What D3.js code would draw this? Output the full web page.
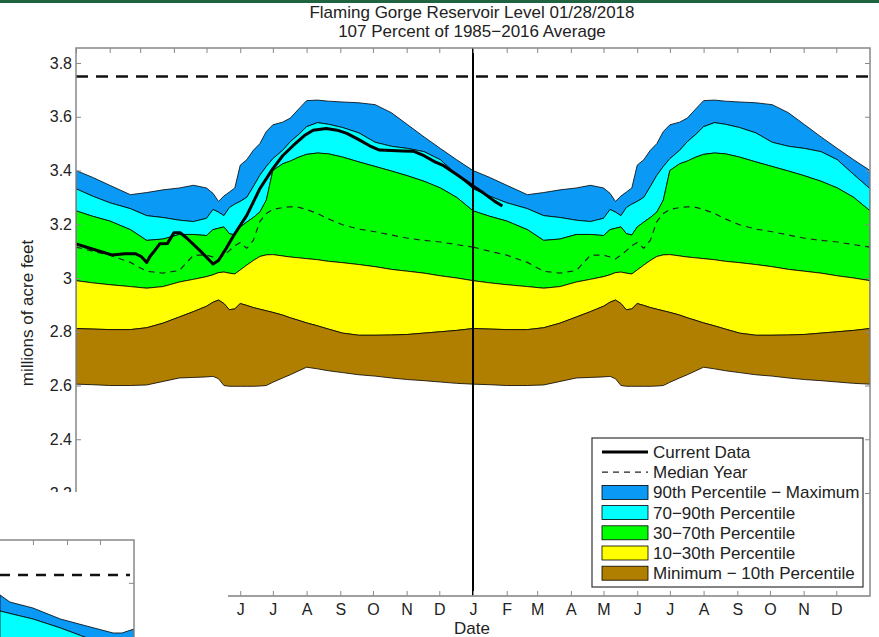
<!DOCTYPE html>
<html>
<head>
<meta charset="utf-8">
<script src="https://cdn.jsdelivr.net/npm/d3@7"></script>
<style>
	body { margin: 0; background: #fff; }
	text { font-family: 'Liberation Sans', Arial, sans-serif; fill: #222; }
</style>
</head>
<body>
<div id="canvas"></div>
<script>
// day of year (0 = Jan 1) at which the percentile curves were read
const days     = [0, 15, 31, 50, 65, 80, 95, 108, 120, 126, 131, 136, 141, 146, 151, 157, 163, 169, 175, 181, 190, 197, 205, 212, 222, 232, 245, 260, 275, 290, 305, 320, 335, 350, 365];
const maxLevel = [3.400, 3.375, 3.345, 3.310, 3.318, 3.328, 3.335, 3.345, 3.335, 3.315, 3.285, 3.305, 3.320, 3.335, 3.420, 3.440, 3.475, 3.500, 3.545, 3.570, 3.580, 3.595, 3.630, 3.660, 3.662, 3.658, 3.655, 3.652, 3.645, 3.615, 3.570, 3.525, 3.482, 3.440, 3.400];
const p90      = [3.332, 3.305, 3.280, 3.258, 3.232, 3.225, 3.215, 3.210, 3.222, 3.255, 3.245, 3.232, 3.262, 3.275, 3.285, 3.300, 3.340, 3.382, 3.415, 3.444, 3.475, 3.507, 3.535, 3.563, 3.578, 3.572, 3.560, 3.540, 3.505, 3.490, 3.482, 3.470, 3.440, 3.385, 3.332];
const p70      = [3.250, 3.230, 3.212, 3.180, 3.140, 3.145, 3.162, 3.162, 3.158, 3.180, 3.185, 3.190, 3.165, 3.160, 3.190, 3.208, 3.225, 3.245, 3.290, 3.400, 3.425, 3.435, 3.450, 3.460, 3.465, 3.462, 3.450, 3.432, 3.415, 3.398, 3.380, 3.360, 3.335, 3.300, 3.250];
const p30      = [2.990, 2.982, 2.975, 2.968, 2.962, 2.968, 2.985, 2.995, 3.005, 3.012, 3.020, 3.022, 3.018, 3.015, 3.030, 3.048, 3.065, 3.080, 3.086, 3.087, 3.082, 3.078, 3.075, 3.072, 3.068, 3.062, 3.057, 3.050, 3.042, 3.032, 3.025, 3.018, 3.008, 3.000, 2.990];
const p10      = [2.812, 2.810, 2.808, 2.808, 2.815, 2.832, 2.855, 2.875, 2.895, 2.910, 2.918, 2.905, 2.882, 2.885, 2.905, 2.898, 2.890, 2.884, 2.878, 2.872, 2.862, 2.852, 2.842, 2.833, 2.822, 2.810, 2.795, 2.787, 2.787, 2.788, 2.790, 2.795, 2.800, 2.805, 2.812];
const minLevel = [2.605, 2.603, 2.600, 2.600, 2.602, 2.615, 2.628, 2.630, 2.632, 2.634, 2.625, 2.600, 2.597, 2.597, 2.597, 2.597, 2.597, 2.598, 2.600, 2.612, 2.628, 2.640, 2.655, 2.668, 2.662, 2.655, 2.648, 2.640, 2.635, 2.628, 2.622, 2.618, 2.613, 2.608, 2.605];
const median   = [3.115, 3.100, 3.085, 3.058, 3.025, 3.018, 3.028, 3.085, 3.085, 3.078, 3.071, 3.085, 3.102, 3.120, 3.132, 3.110, 3.140, 3.210, 3.240, 3.255, 3.262, 3.265, 3.263, 3.255, 3.240, 3.220, 3.198, 3.182, 3.172, 3.160, 3.148, 3.140, 3.134, 3.124, 3.115];

// current data, days counted from Jan 1 2017
const currentDays  = [0, 15, 33, 45, 55, 60, 65, 68, 72, 77, 84, 90, 96, 102, 114, 126, 131, 138, 145, 157, 169, 181, 190, 200, 210, 218, 230, 240, 249, 260, 270, 279, 290, 300, 310, 320, 330, 338, 350, 365, 375, 385, 392];
const currentLevel = [3.127, 3.108, 3.086, 3.090, 3.090, 3.080, 3.058, 3.080, 3.100, 3.127, 3.128, 3.168, 3.168, 3.148, 3.102, 3.052, 3.065, 3.110, 3.158, 3.233, 3.332, 3.407, 3.455, 3.494, 3.530, 3.550, 3.556, 3.550, 3.538, 3.515, 3.492, 3.476, 3.474, 3.473, 3.472, 3.455, 3.432, 3.418, 3.385, 3.342, 3.315, 3.285, 3.268];

const years = [2017, 2018];
const fullPool = 3.75;
const yTicks = [2.2, 2.4, 2.6, 2.8, 3, 3.2, 3.4, 3.6, 3.8];
const bandNames = ['90th Percentile \u2212 Maximum', '70\u221290th Percentile', '30\u221270th Percentile', '10\u221230th Percentile', 'Minimum \u2212 10th Percentile'];
const bandColors = ['#0a9af5', '#00ffff', '#00ff00', '#ffff00', '#b17f00'];

// piece of a second chart visible in the lower left corner (days from Sep 1)
const insetDays = [0, 9, 30, 55, 79, 103, 111, 122];
const insetMax  = [3.623, 3.578, 3.540, 3.470, 3.425, 3.381, 3.381, 3.406];
const insetP90  = [3.521, 3.505, 3.470, 3.413, 3.350, 3.320, 3.310, 3.290];

const w = 879;
const h = 637;
const axLeft = 76, axRight = 870, axTop = 48, axBottom = 596;

const svg = d3.select('#canvas')
	.append('svg')
	.attr('width', w)
	.attr('height', h);

svg.append('rect')
	.attr('x', 0).attr('y', 0)
	.attr('width', w).attr('height', 3)
	.attr('fill', '#1f6340');

const x = d3.scaleTime()
	.domain([new Date(2017, 0, 1), new Date(2019, 0, 1)])
	.range([axLeft, axRight]);

const y = d3.scaleLinear()
	.domain([2.2, 3.8])
	.range([493, 63]);

svg.append('clipPath')
	.attr('id', 'plot')
	.append('rect')
	.attr('x', axLeft).attr('y', axTop)
	.attr('width', axRight - axLeft).attr('height', axBottom - axTop);

const plot = svg.append('g').attr('clip-path', 'url(#plot)');

const levels = [maxLevel, p90, p70, p30, p10, minLevel];

years.forEach(function(year) {
	const start = new Date(year, 0, 1);
	const rows = days.map((d, i) => ({
		date: d3.timeDay.offset(start, d),
		levels: levels.map(l => l[i]),
		median: median[i]
	}));

	bandColors.forEach(function(color, b) {
		const area = d3.area()
			.x(d => x(d.date))
			.y0(d => y(d.levels[b + 1]))
			.y1(d => y(d.levels[b]));
		plot.append('path')
			.datum(rows)
			.attr('d', area)
			.attr('fill', color)
			.attr('stroke', '#000')
			.attr('stroke-width', 0.8);
	});

	plot.append('path')
		.datum(rows)
		.attr('d', d3.line().x(d => x(d.date)).y(d => y(d.median)))
		.attr('fill', 'none')
		.attr('stroke', '#222')
		.attr('stroke-width', 1.2)
		.attr('stroke-dasharray', '6,5');
});

const current = currentDays.map((d, i) => ({ date: d3.timeDay.offset(new Date(2017, 0, 1), d), value: currentLevel[i] }));

plot.append('path')
	.datum(current)
	.attr('d', d3.line().x(d => x(d.date)).y(d => y(d.value)))
	.attr('fill', 'none')
	.attr('stroke', '#000')
	.attr('stroke-width', 3)
	.attr('stroke-linejoin', 'round');

plot.append('line')
	.attr('x1', axLeft).attr('x2', axRight)
	.attr('y1', y(fullPool)).attr('y2', y(fullPool))
	.attr('stroke', '#111')
	.attr('stroke-width', 2.5)
	.attr('stroke-dasharray', '12,8');

plot.append('line')
	.attr('x1', x(new Date(2018, 0, 1))).attr('x2', x(new Date(2018, 0, 1)))
	.attr('y1', axTop).attr('y2', axBottom)
	.attr('stroke', '#000')
	.attr('stroke-width', 2);

// axes
const months = d3.timeMonth.range(new Date(2017, 0, 1), new Date(2019, 0, 1));

svg.append('g')
	.attr('transform', 'translate(0, ' + axBottom + ')')
	.call(d3.axisBottom(x).tickValues(months).tickSizeInner(-5).tickSizeOuter(0).tickPadding(8)
		.tickFormat(d => d3.timeFormat('%b')(d)[0]));

svg.append('g')
	.attr('transform', 'translate(0, ' + axTop + ')')
	.call(d3.axisTop(x).tickValues(months).tickSizeInner(-5).tickSizeOuter(0).tickFormat(''));

svg.append('g')
	.attr('transform', 'translate(' + axLeft + ', 0)')
	.call(d3.axisLeft(y).tickValues(yTicks).tickSizeInner(-5).tickSizeOuter(0).tickPadding(4).tickFormat(d3.format('')));

svg.append('g')
	.attr('transform', 'translate(' + axRight + ', 0)')
	.call(d3.axisRight(y).tickValues(yTicks).tickSizeInner(-5).tickSizeOuter(0).tickFormat(''));

svg.selectAll('.domain').remove();
svg.selectAll('.tick line').attr('stroke', '#888');
svg.selectAll('.tick text').style('font-size', '16px').attr('fill', '#222');

svg.append('rect')
	.attr('x', axLeft).attr('y', axTop)
	.attr('width', axRight - axLeft).attr('height', axBottom - axTop)
	.attr('fill', 'none')
	.attr('stroke', '#888')
	.attr('stroke-width', 1.5);

svg.append('text')
	.attr('transform', 'translate(33, 313) rotate(-90)')
	.style('text-anchor', 'middle')
	.style('font-size', '17px')
	.text('millions of acre feet');

svg.append('text')
	.attr('x', 472).attr('y', 634)
	.style('text-anchor', 'middle')
	.style('font-size', '17px')
	.text('Date');

svg.append('text')
	.attr('x', 472).attr('y', 18)
	.style('text-anchor', 'middle')
	.style('font-size', '17px')
	.text('Flaming Gorge Reservoir Level 01/28/2018');

svg.append('text')
	.attr('x', 472).attr('y', 37)
	.style('text-anchor', 'middle')
	.style('font-size', '17px')
	.text('107 Percent of 1985\u22122016 Average');

// legend
const legend = svg.append('g').attr('transform', 'translate(592, 438)');

legend.append('rect')
	.attr('width', 271).attr('height', 149)
	.attr('fill', '#fff')
	.attr('stroke', '#333')
	.attr('stroke-width', 1.2);

const legendRows = [
	{ label: 'Current Data', type: 'current' },
	{ label: 'Median Year', type: 'median' }
].concat(bandNames.map((n, i) => ({ label: n, type: 'band', color: bandColors[i] })));

legendRows.forEach(function(r, i) {
	const ly = 14 + i * 20.2;
	if (r.type === 'current') {
		legend.append('line').attr('x1', 10).attr('x2', 56).attr('y1', ly).attr('y2', ly)
			.attr('stroke', '#000').attr('stroke-width', 3);
	} else if (r.type === 'median') {
		legend.append('line').attr('x1', 10).attr('x2', 56).attr('y1', ly).attr('y2', ly)
			.attr('stroke', '#222').attr('stroke-width', 1.2).attr('stroke-dasharray', '6,5');
	} else {
		legend.append('rect').attr('x', 10).attr('y', ly - 7).attr('width', 46).attr('height', 14)
			.attr('fill', r.color).attr('stroke', '#000').attr('stroke-width', 0.8);
	}
	legend.append('text')
		.attr('x', 61).attr('y', ly + 6)
		.style('font-size', '17px')
		.text(r.label);
});

// white patch over the lower left corner of the chart
svg.append('rect')
	.attr('x', 0).attr('y', 492)
	.attr('width', 228).attr('height', h - 492)
	.attr('fill', '#fff');

// fragment of another chart pasted over the corner
const ix = d3.scaleTime()
	.domain([new Date(2017, 8, 1), new Date(2018, 0, 1)])
	.range([0, 134]);
const iy = d3.scaleLinear()
	.domain([3.40, 3.75])
	.range([630, 575]);

const inset = svg.append('g');
inset.append('clipPath').attr('id', 'insetclip')
	.append('rect').attr('x', 0).attr('y', 540).attr('width', 134).attr('height', h - 540);

const insetRows = insetDays.map((d, i) => ({ date: d3.timeDay.offset(new Date(2017, 8, 1), d), max: insetMax[i], p90: insetP90[i] }));
const insetPlot = inset.append('g').attr('clip-path', 'url(#insetclip)');

insetPlot.append('path')
	.datum(insetRows)
	.attr('d', d3.area().x(d => ix(d.date)).y0(d => iy(d.p90)).y1(d => iy(d.max)))
	.attr('fill', bandColors[0]).attr('stroke', '#000').attr('stroke-width', 0.8);

insetPlot.append('path')
	.datum(insetRows)
	.attr('d', d3.area().x(d => ix(d.date)).y0(h + 20).y1(d => iy(d.p90)))
	.attr('fill', bandColors[1]).attr('stroke', '#000').attr('stroke-width', 0.8);

insetPlot.append('line')
	.attr('x1', 0).attr('x2', 130)
	.attr('y1', iy(fullPool)).attr('y2', iy(fullPool))
	.attr('stroke', '#111').attr('stroke-width', 2.5).attr('stroke-dasharray', '10,8');

inset.append('g')
	.attr('transform', 'translate(0, 540)')
	.call(d3.axisTop(ix).tickValues(d3.timeMonth.range(new Date(2017, 9, 1), new Date(2018, 0, 1))).tickSizeInner(-5).tickSizeOuter(0).tickFormat(''));

inset.append('g')
	.attr('transform', 'translate(134, 0)')
	.call(d3.axisRight(iy).tickValues([3.7]).tickSizeInner(-5).tickSizeOuter(0).tickFormat(''));

inset.selectAll('.domain').remove();
inset.selectAll('.tick line').attr('stroke', '#888');

inset.append('path')
	.attr('d', 'M0,540H134V' + h)
	.attr('fill', 'none')
	.attr('stroke', '#888')
	.attr('stroke-width', 1.5);

// bottom axis line right of the patch
svg.append('line')
	.attr('x1', 228).attr('x2', axRight)
	.attr('y1', axBottom).attr('y2', axBottom)
	.attr('stroke', '#999').attr('stroke-width', 1.2);
</script>
</body>
</html>
